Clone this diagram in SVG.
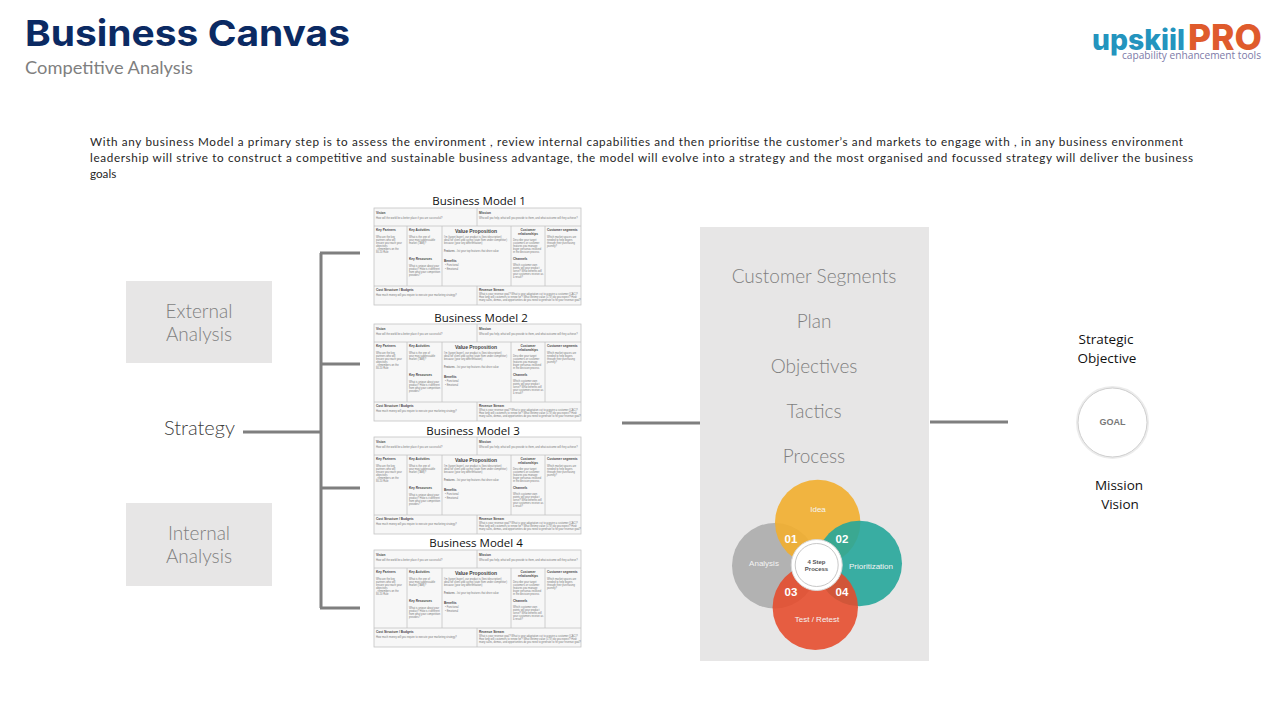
<svg xmlns="http://www.w3.org/2000/svg" width="1280" height="720" viewBox="0 0 1280 720">
<style>
.lato{font-family:Lato,"Liberation Sans",sans-serif}
.big{font-family:Lato,"Liberation Sans",sans-serif;font-weight:300;font-size:19px;fill:#7f7f7f;text-anchor:middle}
.body{font-family:Lato,"Liberation Sans",sans-serif;font-size:11.7px;fill:#262626}
.hd{font-family:"Open Sans","Liberation Sans",sans-serif;font-size:11.5px;fill:#111;text-anchor:middle}
.note{font-family:"Open Sans","Liberation Sans",sans-serif;font-size:13.5px;fill:#111;text-anchor:middle}
.box{fill:#e7e6e6}
.c{fill:none;stroke:#7f7f7f;stroke-width:3}
.g{fill:#f7f7f7;stroke:#c4c4c4;stroke-width:.8}
.t{font-family:"Liberation Sans",sans-serif;font-size:2.6px;fill:#777}
.b{font-family:"Liberation Sans",sans-serif;font-size:3.2px;font-weight:700;fill:#444}
.v{font-family:"Liberation Sans",sans-serif;font-size:8px;fill:#f4f4f4;text-anchor:middle}
.n{font-family:"Liberation Sans",sans-serif;font-size:11.5px;font-weight:700;fill:#fff;text-anchor:middle}
</style>
<defs>
<g id="canvas">
<rect class="g" x="0" y="0" width="207" height="97"/>
<path class="g" fill="none" d="M0 18H207M0 78H207M103 0V18M103 78V97M33 18V78M68 18V78M137 18V78M171 18V78"/>
<text class="b" x="2" y="6">Vision</text><text class="t" x="2" y="11">How will the world be a better place if you are successful?</text>
<text class="b" x="105" y="6">Mission</text><text class="t" x="105" y="11">Who will you help, what will you provide to them, and what outcome will they achieve?</text>
<text class="b" x="2" y="23">Key Partners</text>
<text class="t" x="2" y="30">Who are the key</text><text class="t" x="2" y="33">partners who will</text><text class="t" x="2" y="36">ensure you reach your</text><text class="t" x="2" y="39">objectives</text><text class="t" x="2" y="42">- remembers on the</text><text class="t" x="2" y="45">80 20 Rule</text>
<text class="b" x="35" y="23">Key Activities</text>
<text class="t" x="35" y="30">What is the one of</text><text class="t" x="35" y="33">your most addressable</text><text class="t" x="35" y="36">market (TAM)?</text>
<text class="b" x="35" y="52">Key Resources</text>
<text class="t" x="35" y="59">What is unique about your</text><text class="t" x="35" y="62">product? How is it different</text><text class="t" x="35" y="65">from what your competition</text><text class="t" x="35" y="68">provides?</text>
<text x="102" y="25" font-family="Liberation Sans,sans-serif" font-size="5" font-weight="700" fill="#444" text-anchor="middle">Value Proposition</text>
<text class="t" x="70" y="30">I’m (target buyer), our product is (best description)</text><text class="t" x="70" y="33">ideal for client and caring (state from under competitor)</text><text class="t" x="70" y="36">because (your key differentiation)</text>
<text class="t" x="70" y="44"><tspan font-weight="700">Features</tspan> - list your top features that drive value</text>
<text class="b" x="70" y="54">Benefits</text><text class="t" x="71" y="58">•  Functional</text><text class="t" x="71" y="62">•  Emotional</text>
<text class="b" x="154" y="23" text-anchor="middle">Customer</text><text class="b" x="154" y="27" text-anchor="middle">relationships</text>
<text class="t" x="139" y="33">Describe your target</text><text class="t" x="139" y="36">customers or customer</text><text class="t" x="139" y="39">features you manage</text><text class="t" x="139" y="42">buyer personas involved</text><text class="t" x="139" y="45">in the decision process</text>
<text class="b" x="139" y="52">Channels</text>
<text class="t" x="139" y="58">Which customer own</text><text class="t" x="139" y="61">points will your product</text><text class="t" x="139" y="64">serve? What benefits will</text><text class="t" x="139" y="67">your customers receive as</text><text class="t" x="139" y="70">a result?</text>
<text class="b" x="173" y="23">Customer segments</text>
<text class="t" x="173" y="30">Which market spaces are</text><text class="t" x="173" y="33">needed to help buyers</text><text class="t" x="173" y="36">through their purchasing</text><text class="t" x="173" y="39">journey?</text>
<text class="b" x="2" y="83">Cost Structure / Budgets</text><text class="t" x="2" y="88">How much money will you require to execute your marketing strategy?</text>
<text class="b" x="105" y="83">Revenue Stream</text>
<text class="t" x="105" y="87">What is your revenue goal? What is your adaptation cut to acquire a customer (CAC)?</text><text class="t" x="105" y="90">How long will customers to renew for? What lifetime value (LTV) do you expect? How</text><text class="t" x="105" y="93">many sales, demos, and opportunities do you need to generate to hit your revenue goal?</text>
</g>
</defs>

<rect width="1280" height="720" fill="#fff"/>

<g id="header">
<text x="25" y="46" font-family="Inter,'Liberation Sans',sans-serif" font-weight="700" font-size="36" fill="#0b2a63" textLength="325" lengthAdjust="spacingAndGlyphs">Business Canvas</text>
<text x="25" y="74" class="lato" font-size="18" fill="#7f7f7f" textLength="168" lengthAdjust="spacingAndGlyphs">Competitive Analysis</text>
</g>

<g id="logo">
<text x="1092" y="50" font-family="Inter,'Liberation Sans',sans-serif" font-weight="800" font-size="28" fill="#2494be" textLength="93" lengthAdjust="spacingAndGlyphs">upskiil</text>
<text x="1188" y="50" font-family="Inter,'Liberation Sans',sans-serif" font-weight="800" font-size="36" fill="#df5b2c" textLength="74" lengthAdjust="spacingAndGlyphs">PRO</text>
<text x="1122" y="59" font-family="Open Sans,'Liberation Sans',sans-serif" font-size="10.5" fill="#7d7aa8" textLength="139" lengthAdjust="spacingAndGlyphs">capability enhancement tools</text>
</g>

<g id="intro">
<text class="body" x="90" y="146" textLength="1093">With any business Model a primary step is to assess the environment , review internal capabilities and then prioritise the customer’s and markets to engage with , in any business environment</text>
<text class="body" x="90" y="162" textLength="1103">leadership will strive to construct a competitive and sustainable business advantage, the model will evolve into a strategy and the most organised and focussed strategy will deliver the business</text>
<text class="body" x="90" y="178">goals</text>
</g>

<g id="external"><rect class="box" x="126" y="281" width="146" height="82"/><text class="big" x="199" y="318">External</text><text class="big" x="199" y="341">Analysis</text></g>
<g id="internal"><rect class="box" x="126" y="503" width="146" height="83"/><text class="big" x="199" y="540">Internal</text><text class="big" x="199" y="563">Analysis</text></g>
<g id="strategy"><text x="164" y="435" class="lato" font-size="20" font-weight="300" fill="#404040">Strategy</text></g>

<g id="connectors">
<path class="c" d="M243 432H321M321 253V608M320 253H360M321 364H360M321 488H360M320 608H360M622 423H700M930 422H1008"/>
</g>

<g id="model1"><text class="hd" x="479" y="205">Business Model 1</text><use href="#canvas" x="374" y="208"/></g>
<g id="model2"><text class="hd" x="481" y="322">Business Model 2</text><use href="#canvas" x="374" y="324"/></g>
<g id="model3"><text class="hd" x="473" y="435">Business Model 3</text><use href="#canvas" x="374" y="437"/></g>
<g id="model4"><text class="hd" x="476" y="547">Business Model 4</text><use href="#canvas" x="374" y="550"/></g>

<g id="process">
<rect class="box" x="700" y="227" width="229" height="434"/>
<text class="big" x="814" y="283">Customer Segments</text>
<text class="big" x="814" y="328">Plan</text>
<text class="big" x="814" y="373">Objectives</text>
<text class="big" x="814" y="418">Tactics</text>
<text class="big" x="814" y="463">Process</text>
</g>

<g id="venn">
<circle cx="774.7" cy="565.7" r="42.7" fill="#b2b2b2"/>
<circle cx="817.7" cy="522.5" r="42.7" fill="#f2ae2e" fill-opacity=".9"/>
<circle cx="859.3" cy="563.5" r="42.7" fill="#26a69a" fill-opacity=".9"/>
<circle cx="815.3" cy="607.3" r="42.7" fill="#e64a2a" fill-opacity=".88"/>
<circle cx="816.7" cy="565" r="25.5" fill="#fff" stroke="#d8d8d8" stroke-width="1"/>
<circle cx="816.7" cy="565" r="21.5" fill="#fff" stroke="#c8c8c8" stroke-width="1"/>
<text class="v" x="818" y="512">Idea</text>
<text class="v" x="764" y="566">Analysis</text>
<text class="v" x="871" y="569">Prioritization</text>
<text class="v" x="817" y="622">Test / Retest</text>
<text class="n" x="791" y="543">01</text>
<text class="n" x="842" y="543">02</text>
<text class="n" x="791" y="596">03</text>
<text class="n" x="842" y="596">04</text>
<text x="816.5" y="564" font-family="Liberation Sans,sans-serif" font-size="6" font-weight="700" fill="#555" text-anchor="middle">4 Step</text>
<text x="816.5" y="571" font-family="Liberation Sans,sans-serif" font-size="6" font-weight="700" fill="#555" text-anchor="middle">Process</text>
</g>

<g id="goal">
<circle cx="1112.5" cy="422.5" r="35" fill="#fff" stroke="#ececec" stroke-width="3"/>
<circle cx="1112.5" cy="422.5" r="34.5" fill="#fff" stroke="#cfcfcf" stroke-width="1"/>
<text x="1112.5" y="425" font-family="Liberation Sans,sans-serif" font-size="9" font-weight="700" fill="#777" text-anchor="middle">GOAL</text>
</g>
<g id="labels">
<text class="note" x="1106" y="344">Strategic</text>
<text class="note" x="1107" y="363">Objective</text>
<text class="note" x="1119" y="490">Mission</text>
<text class="note" x="1120" y="509">Vision</text>
</g>
</svg>
